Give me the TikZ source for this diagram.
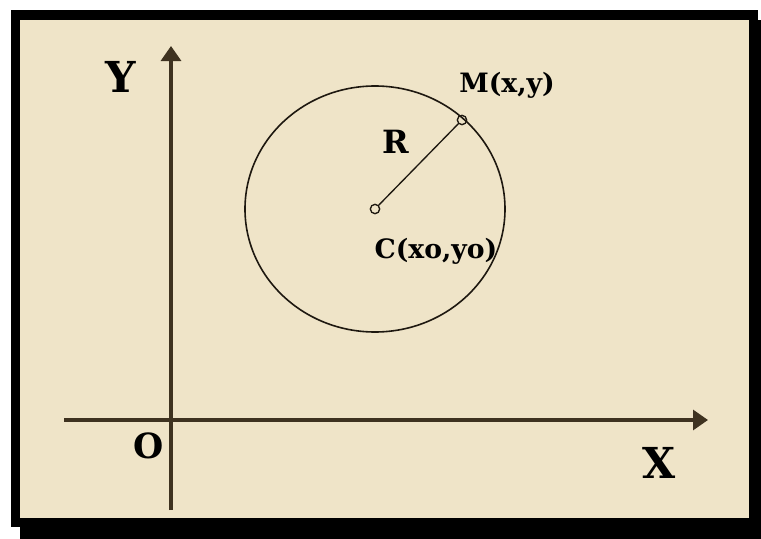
\documentclass[tikz,border=0pt]{standalone}
\usepackage{fontspec}
\setmainfont{DejaVu Serif}
\usetikzlibrary{arrows.meta}
\definecolor{paper}{RGB}{239,228,200}
\definecolor{axiscol}{RGB}{62,50,32}
\definecolor{inkcol}{RGB}{30,24,16}
\tikzset{
  axis/.style={draw=axiscol, line width=2.4pt, -{Triangle[width=15pt,length=11.25pt]}},
  lbl/.style={inner sep=0pt, anchor=base, text=black, font=\bfseries\fontsize{20}{24}\selectfont},
  biglbl/.style={inner sep=0pt, anchor=base, text=black, font=\bfseries\fontsize{32}{36}\selectfont},
  pt/.style={circle, draw=inkcol, fill=paper, line width=1pt, inner sep=0pt, minimum size=7pt},
  ring/.style={draw=inkcol, line width=1.2pt},
  radius line/.style={draw=inkcol, line width=1pt}
}
\begin{document}
\begin{tikzpicture}[x=0.75pt, y=-0.75pt]
\useasboundingbox (0,0) rectangle (761,539);
\fill[white] (0,0) rectangle (761,539);
% frame and shadow
\fill[black] (11,10) rectangle (758,527);
\fill[black] (20,20) rectangle (761,539);
\fill[paper] (20,20) rectangle (749,518);
% axes
\coordinate (ybot) at (171,510);
\coordinate (ytop) at (171,46);
\coordinate (xleft) at (64,420);
\coordinate (xright) at (708,420);
\draw[axis] (ybot) -- (ytop);
\draw[axis] (xleft) -- (xright);
% circle
\node[pt] (cpt) at (375,209) {};
\node[pt] (mpt) at (462,120) {};
\draw[ring] (cpt.center) ellipse [x radius=130, y radius=123];
\draw[radius line] (cpt) -- (mpt);
% labels
\node[biglbl] (ylab) at (121,92) {Y};
\node[biglbl] (xlab) at (659,478) {X};
\node[biglbl, font=\bfseries\fontsize{26}{30}\selectfont] (olab) at (149,458) {O};
\node[lbl, font=\bfseries\fontsize{24}{28}\selectfont] (rlab) at (396,153) {R};
\node[lbl] (mlab) at (507,92) {M(x,y)};
\node[lbl] (clab) at (436,258) {C(xo,yo)};
\end{tikzpicture}
\end{document}
